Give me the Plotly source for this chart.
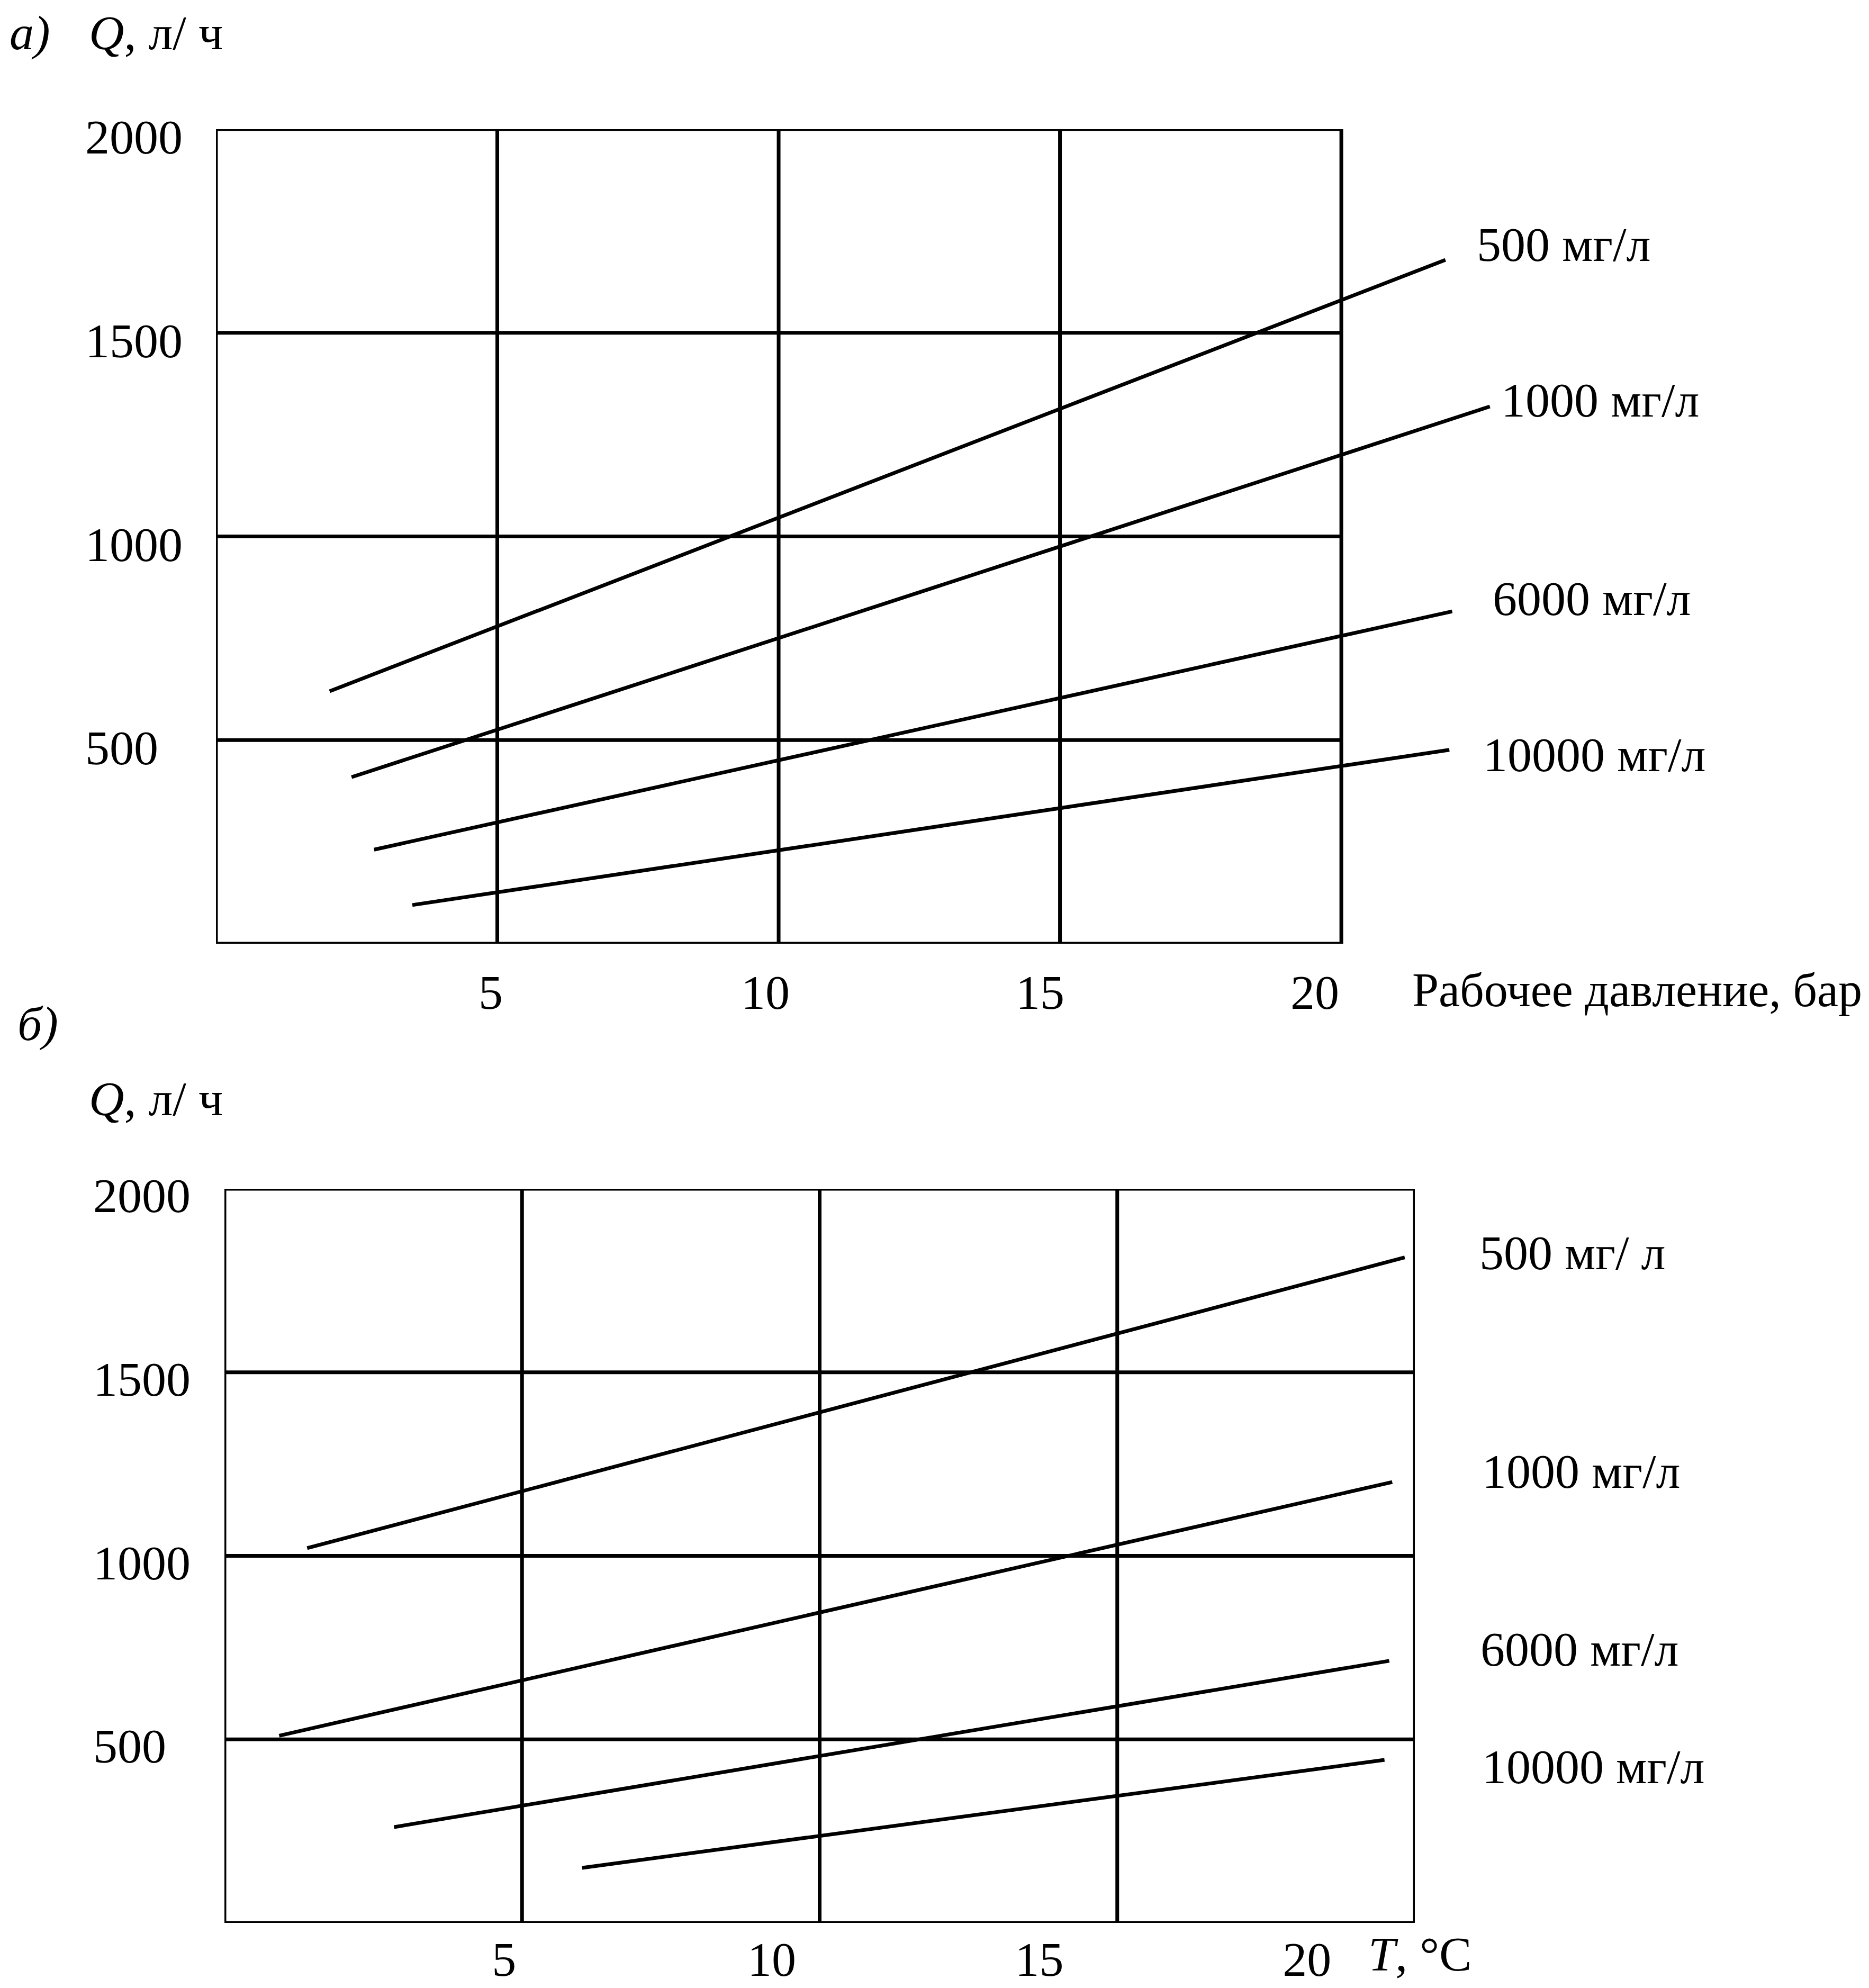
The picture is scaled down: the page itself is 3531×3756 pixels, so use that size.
import plotly.graph_objects as go

# Page body has an 8px margin, so the figure is a bit smaller and all
# reference pixel positions are offset by it.
OFF = 8
FW, FH = 3531 - OFF, 3756 - OFF

# ---------------- data ----------------
grid_x_ticks = [5, 10, 15]            # vertical grid lines (both charts)
x_tick_vals = [5, 10, 15, 20]
x_tick_text = ["5", "10", "15", "20"]
q_grid = [500, 1000, 1500]
q_tick_vals = [500, 1000, 1500, 2000]
q_tick_text = ["500\u2007", "1000", "1500", "2000"]

names_a = ["500 мг/л", "1000 мг/л", "6000 мг/л", "10000 мг/л"]
names_b = ["500 мг/ л", "1000 мг/л", "6000 мг/л", "10000 мг/л"]

# а) Q (л/ч) vs working pressure (бар)
p_500 = [2.02, 21.85];   q_p_500 = [620, 1679]
p_1000 = [2.41, 22.64];  q_p_1000 = [409, 1319]
p_6000 = [2.81, 21.97];  q_p_6000 = [231, 816]
p_10000 = [3.49, 21.92]; q_p_10000 = [95, 476]

# б) Q (л/ч) vs temperature (°C)
t_500 = [1.39, 19.83];   q_t_500 = [1021, 1813]
t_1000 = [0.92, 19.62];  q_t_1000 = [510, 1201]
t_6000 = [2.85, 19.57];  q_t_6000 = [261, 714]
t_10000 = [6.01, 19.49]; q_t_10000 = [150, 444]

series_a = [(p_500, q_p_500), (p_1000, q_p_1000), (p_6000, q_p_6000), (p_10000, q_p_10000)]
series_b = [(t_500, q_t_500), (t_1000, q_t_1000), (t_6000, q_t_6000), (t_10000, q_t_10000)]

# ---------------- figure ----------------
FONT = "Liberation Serif, Times New Roman, serif"
FS = 92
LW = 7

def px(x):
    return (x - OFF) / FW

def py(y):
    return 1 - (y - OFF) / FH

fig = go.Figure()
for name, (xs, ys) in zip(names_a, series_a):
    fig.add_trace(go.Scatter(x=xs, y=ys, mode="lines", name=name,
                             line=dict(color="black", width=LW),
                             xaxis="x", yaxis="y", showlegend=False))
for name, (xs, ys) in zip(names_b, series_b):
    fig.add_trace(go.Scatter(x=xs, y=ys, mode="lines", name=name,
                             line=dict(color="black", width=LW),
                             xaxis="x2", yaxis="y2", showlegend=False))
# empty traces so the tick-label axes (x3, x4) get drawn
for xa, ya in (("x3", "y"), ("x4", "y2")):
    fig.add_trace(go.Scatter(x=x_tick_vals, y=[None] * len(x_tick_vals), mode="lines",
                             xaxis=xa, yaxis=ya, showlegend=False, hoverinfo="skip"))

shapes = []
for xr, yr in (("x", "y"), ("x2", "y2")):
    shapes.append(dict(type="rect", xref=xr, yref=yr, x0=0, x1=20, y0=0, y1=2000,
                       line=dict(color="black", width=LW), layer="above"))
    for gx in grid_x_ticks:
        shapes.append(dict(type="line", xref=xr, yref=yr, x0=gx, x1=gx, y0=0, y1=2000,
                           line=dict(color="black", width=LW), layer="below"))
    for gy in q_grid:
        shapes.append(dict(type="line", xref=xr, yref=yr, x0=0, x1=20, y0=gy, y1=gy,
                           line=dict(color="black", width=LW), layer="below"))

tickfont = dict(family=FONT, size=FS, color="black")
hidden = dict(showticklabels=False, showgrid=False, zeroline=False, showline=False,
              ticks="", automargin=False)
labelaxis = dict(tickmode="array", tickvals=x_tick_vals, ticktext=x_tick_text,
                 ticks="", showgrid=False, zeroline=False, showline=False,
                 tickfont=tickfont, automargin=False, side="bottom")
qaxis = dict(range=[0, 2000], tickmode="array", tickvals=q_tick_vals, ticktext=q_tick_text,
             ticks="", showgrid=False, zeroline=False, showline=False,
             tickfont=tickfont, automargin=False)

# tick labels of the reference sit slightly off the grid lines, so they live
# on overlaying label axes with their own (fitted) scale
LAB_A0, LAB_AK = 408, 103.8      # px of 0 and px per unit, chart а labels
LAB_B0, LAB_BK = 446.5, 101.14   # chart б labels

fig.update_layout(
    width=FW, height=FH, autosize=False,
    margin=dict(l=0, r=0, t=0, b=0, pad=0),
    paper_bgcolor="white", plot_bgcolor="rgba(0,0,0,0)",
    font=dict(family=FONT, size=FS, color="black"),
    showlegend=False,
    xaxis=dict(domain=[px(408), px(2853)], range=[0, 23], anchor="y", **hidden),
    xaxis3=dict(overlaying="x", anchor="y",
                range=[(408 - LAB_A0) / LAB_AK, (2853 - LAB_A0) / LAB_AK],
                ticklabelstandoff=30, **labelaxis),
    yaxis=dict(domain=[py(1783), py(244)], anchor="x",
               ticklabelstandoff=62, ticklabelshift=14, **qaxis),
    xaxis2=dict(domain=[px(424), px(2673)], range=[0, 20], anchor="y2", **hidden),
    xaxis4=dict(overlaying="x2", anchor="y2",
                range=[(424 - LAB_B0) / LAB_BK, (2673 - LAB_B0) / LAB_BK],
                ticklabelstandoff=7, **labelaxis),
    yaxis2=dict(domain=[py(3633), py(2246)], anchor="x2",
                ticklabelstandoff=63, ticklabelshift=12, **qaxis),
    shapes=shapes,
)

def note(text, x, y, size=FS):
    fig.add_annotation(text=text, xref="paper", yref="paper", x=px(x), y=py(y),
                       xanchor="left", yanchor="middle", showarrow=False,
                       font=dict(family=FONT, size=size, color="black"))

note("<i>а)</i>", 16, 62)
note("<i>Q</i>, л/ ч", 166, 62)
note("<i>б)</i>", 31, 1934)
note("<i>Q</i>, л/ ч", 166, 2076)
note("Рабочее давление, бар", 2666, 1871, size=90)
note("<i>T</i>, °C", 2583, 3692)

# curve labels
for text, (x, y) in zip(names_a, [(2788, 462), (2834, 756), (2818, 1131), (2800, 1426)]):
    note(text, x, y)
for text, (x, y) in zip(names_b, [(2793, 2367), (2798, 2780), (2795, 3116), (2798, 3338)]):
    note(text, x, y)

fig.write_html("out.html")
